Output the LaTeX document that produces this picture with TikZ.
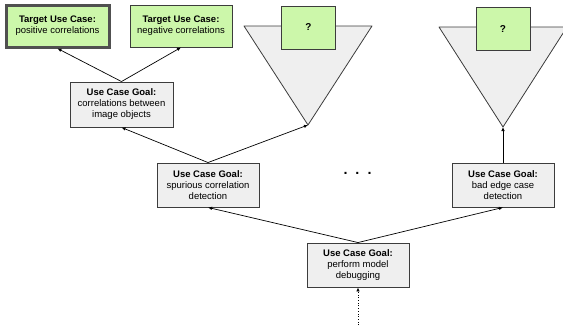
\documentclass[tikz,border=0pt]{standalone}
\usepackage{fontspec}
\setmainfont{Liberation Sans}
\usetikzlibrary{arrows.meta}
\definecolor{boxgreen}{RGB}{204,247,170}
\definecolor{boxgray}{RGB}{239,239,239}
\definecolor{edgegray}{RGB}{60,60,60}
\begin{document}
\begin{tikzpicture}[x=1pt,y=1pt,
    every node/.style={font=\fontsize{9.5}{11}\selectfont, align=center,
      inner sep=1pt},
    goal/.style={draw=edgegray, fill=boxgray, line width=0.9pt,
      minimum width=102pt, minimum height=44pt},
    tcase/.style={goal, fill=boxgreen},
    qbox/.style={tcase, minimum width=54pt, minimum height=43pt, font=\bfseries},
    funnel/.style={draw=edgegray, fill=boxgray, line width=0.8pt, line join=round},
    link/.style={-{Latex[length=4pt,width=3.5pt]}, line width=0.7pt}]
      \useasboundingbox (0,0) rectangle (563,325);
      % open branches
      \filldraw[funnel] (244,299) -- (372,299) -- (308,200) -- cycle;
      \filldraw[funnel] (439,298) -- (567,298) -- (503,198) -- cycle;
      \coordinate (tip1) at (308,200);
      \coordinate (tip2) at (503,198);
      \coordinate (root) at (358,0);
      \draw
        (57.5,299) node[tcase, line width=3pt, draw=edgegray!90,
          minimum width=103pt, minimum height=42pt] (pos)
          {\textbf{Target Use Case:}\\positive correlations}
        (181,299) node[tcase, minimum height=42pt] (neg)
          {\textbf{Target Use Case:}\\negative correlations}
        (308.5,297.5) node[qbox] (q1) {?}
        (503,296) node[qbox] (q2) {?}
        (121.5,220.5) node[goal, minimum width=103pt, minimum height=45pt] (corr)
          {\textbf{Use Case Goal:}\\correlations between\\image objects}
        (208,140) node[goal] (spur)
          {\textbf{Use Case Goal:}\\spurious correlation\\detection}
        (503,140) node[goal] (bad)
          {\textbf{Use Case Goal:}\\bad edge case\\detection}
        (358,60) node[goal] (perf)
          {\textbf{Use Case Goal:}\\perform model\\debugging}
        (357.5,152) node[font=\bfseries\Large] (dots)
          {.\hspace{8pt}.\hspace{8pt}.};
      \begin{scope}[link]
        \draw (corr.north) to (pos.south);
        \draw (corr.north) to (neg.south);
        \draw (spur.north) to (corr.south);
        \draw (spur.north) to (tip1);
        \draw (bad.north) to (tip2);
        \draw (perf.north) to (spur.south);
        \draw (perf.north) to (bad.south);
        \draw[dotted] (root) to (perf.south);
      \end{scope}
    \end{tikzpicture}
\end{document}
